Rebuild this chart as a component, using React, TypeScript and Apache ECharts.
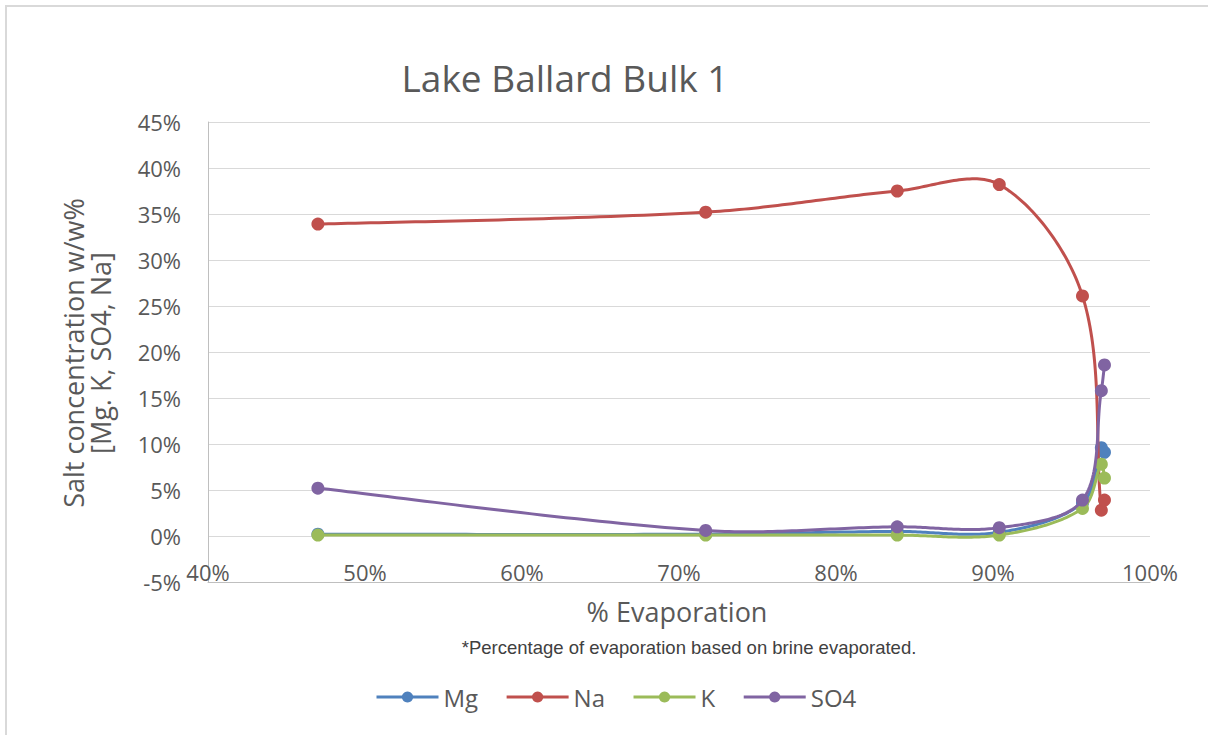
import React, { useEffect, useRef } from "react";
import * as echarts from "echarts";

const evaporation = [47.0, 71.7, 83.9, 90.4, 95.7, 96.9, 97.1];
const mgValues = [0.2, 0.2, 0.5, 0.4, 3.6, 9.6, 9.1];
const naValues = [33.9, 35.2, 37.5, 38.2, 26.1, 2.8, 3.9];
const kValues = [0.1, 0.1, 0.1, 0.1, 3.0, 7.8, 6.3];
const so4Values = [5.2, 0.6, 1.0, 0.9, 3.9, 15.8, 18.6];

const seriesNames = ["Mg", "Na", "K", "SO4"];
const seriesColors = ["#4F81BD", "#C0504D", "#9BBB59", "#8064A2"];
const seriesValues = [mgValues, naValues, kValues, so4Values];

const titleText = "Lake Ballard Bulk 1";
const xTitle = "% Evaporation";
const yTitleLines = ["Salt concentration w/w%", "[Mg. K, SO4, Na]"];
const footnote = "*Percentage of evaporation based on brine evaporated.";

const FONT = "'Open Sans', sans-serif";
const TEXT = "#595959";

function dist(a: number[], b: number[]) {
  return Math.hypot(a[0] - b[0], a[1] - b[1]);
}

// Excel-like smoothed curve: cubic Bezier with Catmull-Rom style control points,
// scaled by neighbouring segment lengths, computed in pixel space from the axis scales.
function smoothCurvePoints(px: number[][]) {
  const out: number[][] = [];
  const n = px.length;
  const f = 1 / 6;
  for (let i = 0; i < n - 1; i++) {
    const p0 = px[Math.max(0, i - 1)];
    const p1 = px[i];
    const p2 = px[i + 1];
    const p3 = px[Math.min(n - 1, i + 2)];
    const d01 = dist(p0, p1);
    const d12 = dist(p1, p2);
    const d23 = dist(p2, p3);
    const k1 = i === 0 ? 1 : (2 * d12) / (d01 + d12 || 1);
    const k2 = i + 2 > n - 1 ? 1 : (2 * d12) / (d12 + d23 || 1);
    const c1 = [p1[0] + (p2[0] - p0[0]) * f * k1, p1[1] + (p2[1] - p0[1]) * f * k1];
    const c2 = [p2[0] - (p3[0] - p1[0]) * f * k2, p2[1] - (p3[1] - p1[1]) * f * k2];
    const steps = 40;
    for (let s = i === 0 ? 0 : 1; s <= steps; s++) {
      const t = s / steps;
      const u = 1 - t;
      const x = u * u * u * p1[0] + 3 * u * u * t * c1[0] + 3 * u * t * t * c2[0] + t * t * t * p2[0];
      const y = u * u * u * p1[1] + 3 * u * u * t * c1[1] + 3 * u * t * t * c2[1] + t * t * t * p2[1];
      out.push([x, y]);
    }
  }
  return out;
}

export default function App() {
  const ref = useRef<HTMLDivElement>(null);
  useEffect(() => {
    if (!ref.current) return;
    const chart = echarts.init(ref.current, null, { renderer: "svg" });

    const curveSeries = seriesNames.map((name, i) => ({
      name: name + " curve",
      type: "custom",
      coordinateSystem: "cartesian2d",
      silent: true,
      z: 2 + 2 * i,
      data: [[evaporation[0], seriesValues[i][0]]],
      encode: { x: 0, y: 1 },
      renderItem: (params: any, api: any) => {
        const px = evaporation.map((x, j) => api.coord([x, seriesValues[i][j]]));
        return {
          type: "polyline",
          shape: { points: smoothCurvePoints(px) },
          style: { stroke: seriesColors[i], lineWidth: 3, fill: null, lineJoin: "round" },
        };
      },
    }));

    const markerSeries = seriesNames.map((name, i) => ({
      name,
      type: "line",
      data: evaporation.map((x, j) => [x, seriesValues[i][j]]),
      symbol: "circle",
      symbolSize: 13,
      lineStyle: { color: seriesColors[i], width: 3, opacity: 0 },
      itemStyle: { color: seriesColors[i] },
      z: 3 + 2 * i,
    }));

    chart.setOption({
      animation: false,
      backgroundColor: "#ffffff",
      textStyle: { fontFamily: FONT },
      grid: { left: 208, right: 58, top: 122, bottom: 153, containLabel: false },
      xAxis: {
        type: "value",
        min: 40,
        max: 100,
        interval: 10,
        axisLine: { onZero: false, lineStyle: { color: "#BFBFBF", width: 1 } },
        axisTick: { show: false },
        splitLine: { show: false },
        axisLabel: {
          formatter: "{value}%",
          color: TEXT,
          fontSize: 22,
          fontFamily: FONT,
          margin: -21,
        },
      },
      yAxis: {
        type: "value",
        min: -5,
        max: 45,
        interval: 5,
        axisLine: { show: true, lineStyle: { color: "#BFBFBF", width: 1 } },
        axisTick: { show: false },
        splitLine: { show: true, lineStyle: { color: "#D9D9D9", width: 1 } },
        axisLabel: {
          formatter: "{value}%",
          color: TEXT,
          fontSize: 22,
          fontFamily: FONT,
          margin: 27,
        },
      },
      legend: {
        data: seriesNames.map((name, i) => ({
          name,
          lineStyle: { color: seriesColors[i], width: 3, opacity: 1 },
          itemStyle: { color: seriesColors[i] },
        })),
        left: 370,
        top: 680,
        itemWidth: 62,
        itemHeight: 14,
        itemGap: 27,
        textStyle: { color: TEXT, fontSize: 24, fontFamily: FONT },
      },
      graphic: [
        {
          type: "rect",
          shape: { x: 6, y: 6, width: 1220, height: 750 },
          style: { fill: "none", stroke: "#D9D9D9", lineWidth: 2 },
          silent: true,
        },
        {
          type: "text",
          x: 565,
          y: 77,
          style: {
            text: titleText,
            fill: TEXT,
            font: `37px ${FONT}`,
            align: "center",
            verticalAlign: "middle",
          },
        },
        {
          type: "text",
          x: 677,
          y: 611,
          style: {
            text: xTitle,
            fill: TEXT,
            font: `27px ${FONT}`,
            align: "center",
            verticalAlign: "middle",
          },
        },
        {
          type: "text",
          x: 73,
          y: 353,
          rotation: Math.PI / 2,
          style: {
            text: yTitleLines[0],
            fill: TEXT,
            font: `27px ${FONT}`,
            align: "center",
            verticalAlign: "middle",
          },
        },
        {
          type: "text",
          x: 100,
          y: 353,
          rotation: Math.PI / 2,
          style: {
            text: yTitleLines[1],
            fill: TEXT,
            font: `27px ${FONT}`,
            align: "center",
            verticalAlign: "middle",
          },
        },
        {
          type: "text",
          x: 689,
          y: 647,
          style: {
            text: footnote,
            fill: "#404040",
            font: "18.5px 'Liberation Sans', Arial, sans-serif",
            align: "center",
            verticalAlign: "middle",
          },
        },
      ],
      series: [...curveSeries, ...markerSeries],
    });
    return () => chart.dispose();
  }, []);
  return (
    <div
      ref={ref}
      style={{ position: "absolute", left: 0, top: 0, width: 1208, height: 735 }}
    />
  );
}
